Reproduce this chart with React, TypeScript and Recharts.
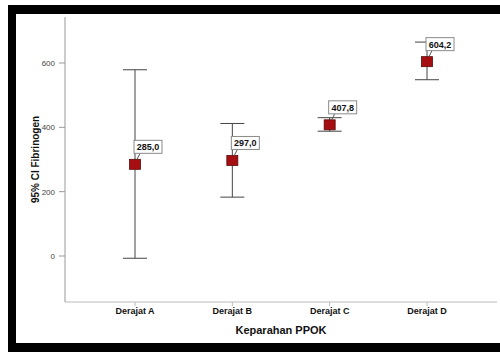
import { ComposedChart, ErrorBar, LabelList, Line, XAxis, YAxis } from "recharts";

const categories = ["Derajat A", "Derajat B", "Derajat C", "Derajat D"];
const means = [285.0, 297.0, 407.8, 604.2];
const lower = [-7, 183, 388, 548];
const upper = [579, 412, 430, 665];
const yTicks = [0, 200, 400, 600];

const data = categories.map((name, i) => ({
  name,
  mean: means[i],
  err: [means[i] - lower[i], upper[i] - means[i]],
}));

const font = "'Liberation Sans', Arial, sans-serif";

function SquareDot(props: any) {
  const { cx, cy } = props;
  if (cx == null || cy == null) return null;
  return <rect x={cx - 5.5} y={cy - 5} width={11} height={10} fill="#a50f12" stroke="#5c0a0a" strokeWidth={0.8} />;
}

function MeanLabel(props: any) {
  const { x, y, value } = props;
  const text = Number(value).toFixed(1).replace(".", ",");
  return (
    <g>
      <line x1={x + 2} y1={y - 5} x2={x + 5} y2={y - 11} stroke="#555" strokeWidth={1} />
      <rect x={x - 1} y={y - 24} width={28} height={13} fill="#fff" stroke="#8a8a8a" strokeWidth={1} />
      <text x={x + 13} y={y - 14} textAnchor="middle" fontSize={9} fontWeight={700} fontFamily={font} fill="#111">
        {text}
      </text>
    </g>
  );
}

export default function App() {
  return (
    <>
      <style>{"html, body { margin: 0; padding: 0; overflow: hidden; background: #fff; }"}</style>
      <div style={{ position: "relative", width: 500, height: 352, background: "#fff", overflow: "hidden" }}>
        <div style={{ position: "absolute", left: 8, top: 5, width: 492, height: 347, background: "#000" }} />
        <div style={{ position: "absolute", left: 16, top: 14, width: 484, height: 329, background: "#fff" }} />
        <div style={{ position: "absolute", left: 0, top: 0 }}>
          <ComposedChart width={500} height={352} data={data} margin={{ top: 17, right: 3, bottom: 20, left: 15 }}>
            <XAxis
              dataKey="name"
              scale="point"
              padding={{ left: 70, right: 70 }}
              height={30}
              tickSize={4}
              tickMargin={2}
              stroke="#bbb"
              tick={{ fill: "#111", fontSize: 9, fontWeight: 700, fontFamily: font }}
              label={{ value: "Keparahan PPOK", position: "bottom", offset: -6, fill: "#111", fontSize: 11, fontWeight: 700, fontFamily: font }}
            />
            <YAxis
              width={50}
              domain={[-143, 743]}
              ticks={yTicks}
              tickSize={6}
              tickMargin={4}
              stroke="#999"
              tick={{ fill: "#444", fontSize: 8, fontFamily: font }}
              label={{
                value: "95% CI Fibrinogen",
                angle: -90,
                position: "insideLeft",
                offset: 20,
                style: { textAnchor: "middle" },
                fill: "#111",
                fontSize: 10,
                fontWeight: 700,
                fontFamily: font,
              }}
            />
            <Line dataKey="mean" stroke="none" dot={<SquareDot />} activeDot={false} isAnimationActive={false} legendType="none">
              <ErrorBar dataKey="err" width={12} stroke="#444" strokeWidth={1} direction="y" />
              <LabelList dataKey="mean" content={<MeanLabel />} />
            </Line>
          </ComposedChart>
        </div>
      </div>
    </>
  );
}
